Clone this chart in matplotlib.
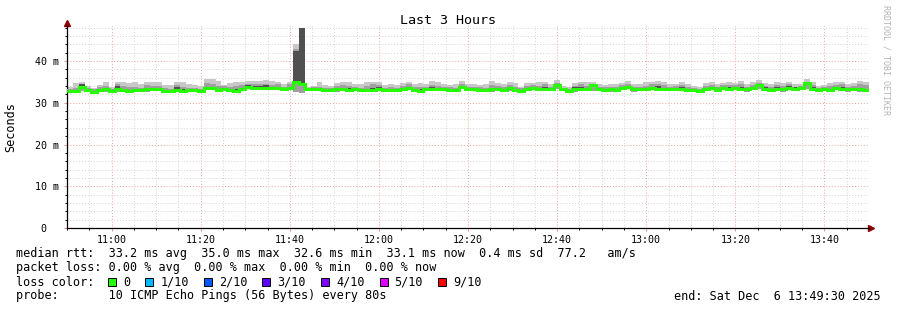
import matplotlib
matplotlib.use("Agg")
import matplotlib.pyplot as plt
from matplotlib.patches import Rectangle
import numpy as np

plt.rcParams["font.family"] = ["DejaVu Sans Mono"]

# time window starts 10:50, one value every 80 s
t_start = "10:50"
step_sec = 80

median = [
    32.8, 32.8, 33.8, 33.1, 32.7, 33.0, 33.2, 32.8, 33.2, 33.0, 32.8, 33.0, 33.0, 33.2, 33.4, 33.2, 32.9,
    32.8, 33.1, 32.9, 33.0, 33.0, 32.8, 33.5, 33.5, 33.0, 33.4, 33.1, 32.9, 33.2, 33.8, 33.6, 33.6, 33.6,
    33.5, 33.6, 33.3, 33.6, 35.0, 34.6, 33.3, 33.3, 33.2, 33.0, 33.0, 33.2, 33.2, 33.1, 33.2, 33.1, 33.0,
    33.1, 33.4, 33.0, 33.0, 33.0, 33.2, 33.5, 33.1, 32.9, 33.4, 33.4, 33.3, 33.4, 33.1, 33.1, 33.7, 33.4,
    33.4, 33.0, 33.0, 33.2, 33.3, 33.0, 33.5, 33.0, 32.9, 33.3, 33.5, 33.4, 33.4, 33.3, 34.2, 33.3, 32.8,
    33.2, 33.3, 33.4, 34.3, 33.3, 33.0, 33.2, 33.1, 33.5, 33.7, 33.2, 33.3, 33.4, 33.5, 33.4, 33.3, 33.4,
    33.3, 33.3, 33.0, 33.1, 32.9, 33.3, 33.5, 33.1, 33.5, 33.4, 33.5, 33.4, 33.2, 33.5, 34.3, 33.3, 33.0,
    33.4, 33.2, 33.5, 33.4, 33.5, 34.7, 33.4, 33.0, 33.3, 33.1, 33.5, 33.4, 33.2, 33.3, 33.2, 33.1,
]
smoke_hi = [
    33.8, 34.8, 35.1, 34.0, 33.6, 34.3, 34.9, 33.9, 35.1, 35.1, 34.8, 34.9, 34.4, 35.1, 35.0, 35.1, 34.3,
    34.2, 35.1, 35.1, 34.5, 34.2, 34.0, 35.8, 35.6, 35.2, 34.2, 34.8, 35.1, 35.1, 35.2, 35.3, 35.3, 35.4,
    35.2, 35.0, 34.6, 35.1, 44.1, 47.9, 33.9, 34.1, 34.9, 34.3, 34.0, 34.8, 35.0, 35.0, 34.6, 34.5, 34.9,
    35.1, 35.0, 34.3, 34.5, 34.2, 34.8, 35.1, 34.4, 34.8, 34.4, 35.2, 35.0, 34.6, 34.3, 34.4, 35.3, 34.5,
    34.6, 34.3, 34.4, 35.3, 34.7, 34.5, 34.9, 34.8, 33.9, 34.7, 34.8, 35.0, 35.1, 34.5, 35.4, 34.0, 33.8,
    34.8, 35.1, 35.0, 35.1, 34.6, 34.3, 34.5, 34.6, 34.7, 35.3, 34.5, 34.4, 34.9, 35.0, 35.3, 34.9, 34.5,
    34.6, 35.0, 34.6, 34.0, 33.9, 34.8, 35.0, 34.5, 34.8, 35.0, 34.8, 35.2, 34.6, 34.9, 35.5, 34.7, 34.4,
    35.0, 34.8, 35.1, 34.5, 34.6, 35.7, 34.9, 34.0, 34.3, 34.8, 34.9, 35.0, 34.6, 34.8, 35.2, 35.0,
]
smoke_mid = [
    33.3, 33.6, 34.4, 33.6, 33.2, 33.8, 34.0, 33.4, 34.4, 34.0, 33.7, 33.9, 33.6, 34.2, 34.1, 34.0, 33.6,
    33.4, 34.2, 33.9, 33.6, 33.6, 33.3, 34.7, 34.6, 34.0, 34.0, 33.8, 34.1, 34.3, 34.6, 34.4, 34.5, 34.6,
    34.2, 34.4, 33.9, 34.4, 43.0, 47.9, 33.6, 33.7, 33.9, 33.6, 33.5, 34.0, 34.2, 34.1, 33.9, 33.6, 34.0,
    34.4, 34.3, 33.6, 33.8, 33.5, 34.0, 34.4, 33.8, 33.8, 33.9, 34.2, 34.1, 33.9, 33.7, 33.6, 34.4, 33.9,
    33.9, 33.7, 33.6, 34.3, 34.0, 33.8, 34.3, 33.9, 33.5, 34.0, 34.2, 34.1, 34.4, 33.9, 34.8, 33.6, 33.3,
    34.1, 34.4, 34.0, 34.6, 33.9, 33.7, 33.8, 33.9, 34.2, 34.5, 33.8, 33.9, 34.1, 34.4, 34.6, 34.2, 33.9,
    34.0, 34.3, 33.9, 33.6, 33.4, 34.1, 34.3, 33.8, 34.2, 34.3, 34.2, 34.4, 33.9, 34.3, 34.8, 34.0, 33.7,
    34.3, 34.1, 34.5, 33.9, 34.0, 35.0, 34.2, 33.6, 33.8, 34.1, 34.3, 34.4, 33.9, 34.0, 34.4, 34.2,
]
smoke_dark = [
    33.0, 33.0, 34.4, 33.3, 32.9, 33.2, 33.5, 33.0, 34.0, 33.3, 33.0, 33.4, 33.2, 33.6, 33.6, 33.5, 33.1,
    33.0, 33.8, 33.2, 33.2, 33.3, 33.0, 33.7, 33.8, 33.3, 33.6, 33.4, 33.2, 33.5, 34.2, 34.0, 34.0, 34.2,
    33.8, 33.9, 33.5, 33.8, 42.5, 47.9, 33.3, 33.4, 33.4, 33.2, 33.2, 33.5, 33.4, 33.5, 33.4, 33.2, 33.3,
    33.5, 33.8, 33.1, 33.2, 33.2, 33.5, 33.8, 33.3, 33.2, 33.6, 33.7, 33.6, 33.6, 33.3, 33.2, 34.0, 33.6,
    33.6, 33.3, 33.2, 33.6, 33.6, 33.2, 33.8, 33.4, 33.1, 33.6, 33.7, 33.6, 33.9, 33.5, 34.5, 33.5, 33.0,
    33.7, 33.9, 33.6, 34.5, 33.6, 33.2, 33.4, 33.4, 33.8, 34.0, 33.5, 33.6, 33.6, 33.8, 34.0, 33.6, 33.6,
    33.6, 33.7, 33.3, 33.3, 33.1, 33.6, 33.8, 33.4, 33.8, 33.7, 33.9, 33.8, 33.5, 33.8, 34.6, 33.8, 33.3,
    33.7, 33.5, 34.0, 33.7, 33.8, 34.9, 33.7, 33.3, 33.5, 33.4, 33.8, 33.7, 33.5, 33.6, 33.5, 33.4,
]
smoke_lo = [
    32.5, 32.5, 32.8, 32.7, 32.4, 32.6, 32.7, 32.5, 32.7, 32.6, 32.4, 32.6, 32.6, 32.7, 32.9, 32.8, 32.5,
    32.4, 32.7, 32.5, 32.6, 32.6, 32.4, 33.0, 33.0, 32.6, 32.8, 32.7, 32.5, 32.8, 33.3, 33.0, 33.1, 33.0,
    33.0, 33.1, 32.8, 33.1, 32.6, 32.4, 32.9, 32.9, 32.8, 32.6, 32.6, 32.7, 32.8, 32.5, 32.8, 32.6, 32.5,
    32.7, 33.0, 32.5, 32.6, 32.6, 32.8, 33.0, 32.6, 32.5, 32.9, 33.0, 32.9, 33.0, 32.7, 32.6, 33.2, 33.0,
    32.9, 32.6, 32.6, 32.7, 32.8, 32.6, 32.9, 32.5, 32.4, 32.8, 33.0, 32.9, 32.9, 32.8, 33.2, 32.8, 32.4,
    32.7, 32.8, 32.9, 32.8, 32.8, 32.6, 32.7, 32.7, 33.0, 33.2, 32.7, 32.8, 32.9, 33.0, 32.9, 32.8, 32.9,
    32.8, 32.9, 32.6, 32.6, 32.5, 32.8, 33.0, 32.6, 33.0, 32.9, 33.0, 32.9, 32.7, 33.0, 33.3, 32.8, 32.5,
    32.9, 32.7, 33.0, 32.9, 33.0, 33.4, 32.9, 32.5, 32.8, 32.6, 33.0, 32.9, 32.7, 32.8, 32.7, 32.6,
]

x_tick_labels = ["11:00", "11:20", "11:40", "12:00", "12:20", "12:40", "13:00", "13:20", "13:40"]
y_ticks = [0, 10, 20, 30, 40]
y_tick_labels = ["0  ", "10 m", "20 m", "30 m", "40 m"]

loss_labels = ["0", "1/10", "2/10", "3/10", "4/10", "5/10", "9/10"]
loss_colors = ["#26ff00", "#00b8ff", "#0059ff", "#5e00ff", "#7e00ff", "#dd00ff", "#ff0000"]

legend_rows = [
    "median rtt:  33.2 ms avg  35.0 ms max  32.6 ms min  33.1 ms now  0.4 ms sd  77.2   am/s",
    "packet loss: 0.00 % avg  0.00 % max  0.00 % min  0.00 % now",
    "loss color:",
    "probe:       10 ICMP Echo Pings (56 Bytes) every 80s",
]
end_text = "end: Sat Dec  6 13:49:30 2025"


def to_min(hhmm):
    h, m = map(int, hhmm.split(":"))
    return h * 60 + m


W, H = 897, 310
fig = plt.figure(figsize=(W / 100, H / 100), dpi=100)
fig.patch.set_facecolor("white")
ax = fig.add_axes([67 / W, 1 - 228 / H, 802 / W, 202 / H])

t0 = to_min(t_start)
edges = np.arange(len(median) + 1) * step_sec / 60.0

# smoke
ax.stairs(smoke_hi, edges, baseline=smoke_lo, fill=True, color="#c8c8c8", lw=0, zorder=2)
ax.stairs(smoke_mid, edges, baseline=smoke_lo, fill=True, color="#a0a0a0", lw=0, zorder=3)
ax.stairs(smoke_dark, edges, baseline=median, fill=True, color="#505050", lw=0, zorder=4)
# median rtt
ax.stairs(median, edges, baseline=None, color="#26ff00", lw=2.2, zorder=5)

ax.set_xlim(0, 180)
ax.set_ylim(0, 48.4)

ax.set_xticks([to_min(s) - t0 for s in x_tick_labels], x_tick_labels)
ax.set_xticks(np.arange(0, 181, 5), minor=True)
ax.set_yticks(y_ticks, y_tick_labels)
ax.set_yticks(np.arange(0, 48.4, 2), minor=True)

ax.set_axisbelow(True)
ax.grid(which="minor", color="#d4d4d4", ls=(0, (1, 2)), lw=0.7)
ax.grid(which="major", color="#f0a0a0", ls=(0, (1, 2)), lw=0.7)

for s in ["top", "right"]:
    ax.spines[s].set_visible(False)
for s in ["left", "bottom"]:
    ax.spines[s].set_color("black")
    ax.spines[s].set_linewidth(0.9)

ax.tick_params(which="major", length=2.5, width=0.7, color="#e89090", labelsize=7.2, pad=2.5)
ax.tick_params(which="minor", length=1.5, width=0.7, color="black")
ax.tick_params(axis="y", which="major", pad=3.2)

# arrow heads on the axes
ax.plot([0], [1.015], marker="^", ms=4, color="#8b0000", transform=ax.transAxes, clip_on=False)
ax.plot([1.0025], [0], marker=">", ms=4, color="#8b0000", transform=ax.transAxes, clip_on=False)

# overlay in pixel coordinates for titles and legend
ov = fig.add_axes([0, 0, 1, 1])
ov.set_xlim(0, W)
ov.set_ylim(H, 0)
ov.axis("off")

ov.text(448, 20, "Last 3 Hours", fontsize=9.6, ha="center", va="center")
ov.text(11, 127, "Seconds", fontsize=8.5, rotation=90, ha="center", va="center")
ov.text(886, 5, "RRDTOOL / TOBI OETIKER", fontsize=6, rotation=270, ha="center", va="top", color="#b4b4b4")

row_y = [254, 268, 282, 296]
for txt, y in zip(legend_rows, row_y):
    ov.text(16, y, txt, fontsize=8.5, ha="left", va="center")
ov.text(881, row_y[3], end_text, fontsize=8.5, ha="right", va="center")

char_w = 7.15
x = 108
for lab, col in zip(loss_labels, loss_colors):
    ov.add_patch(Rectangle((x, row_y[2] - 4), 8, 8, facecolor=col, edgecolor="black", lw=0.7))
    ov.text(x + 15, row_y[2], lab, fontsize=8.5, ha="left", va="center")
    x += 15 + len(lab) * char_w + 15

fig.savefig("out.png", dpi=100, facecolor="white")
